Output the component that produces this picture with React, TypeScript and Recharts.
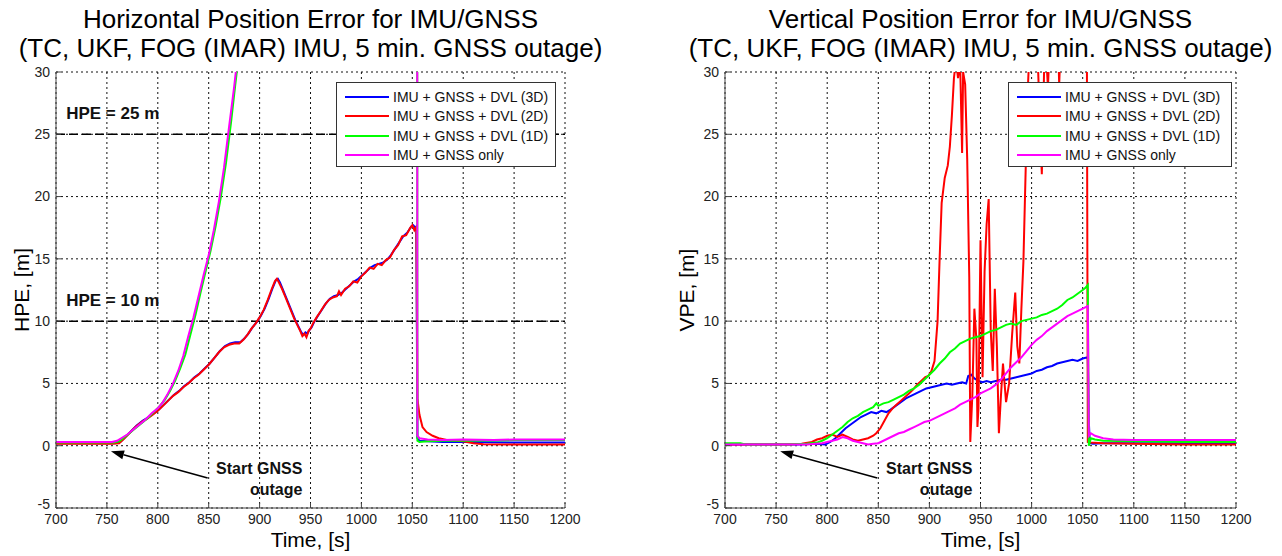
import React from "react";
import {
  LineChart,
  Line,
  XAxis,
  YAxis,
  CartesianGrid,
  ReferenceLine,
  ReferenceDot,
  Legend,
} from "recharts";

const FONT = "'Liberation Sans', Arial, Helvetica, sans-serif";

const TIME_TICKS = [700, 750, 800, 850, 900, 950, 1000, 1050, 1100, 1150, 1200];
const ERR_TICKS = [-5, 0, 5, 10, 15, 20, 25, 30];

const SERIES_NAMES = [
  "IMU + GNSS + DVL (3D)",
  "IMU + GNSS + DVL (2D)",
  "IMU + GNSS + DVL (1D)",
  "IMU + GNSS only",
];
const SERIES_COLORS = ["#0000ff", "#ff0000", "#00ff00", "#ff00ff"];

// HPE curves, [time s, error m]
const HPE_3D: [number, number][] = [
  [700, 0.2], [740, 0.2], [758, 0.2], [763, 0.3], [767, 0.6], [773, 1.1], [779, 1.6], [785, 2.0],
  [791, 2.3], [796, 2.6], [801, 2.9], [806, 3.3], [811, 3.7], [816, 4.1], [821, 4.4], [826, 4.8],
  [831, 5.1], [836, 5.5], [841, 5.8], [846, 6.2], [851, 6.6], [856, 7.1], [861, 7.6], [866, 8.0],
  [871, 8.2], [876, 8.3], [881, 8.3], [885, 8.6], [889, 9.0], [893, 9.5], [897, 9.9], [901, 10.4],
  [905, 11.0], [909, 11.8], [913, 12.7], [916, 13.3], [918, 13.4], [920, 13.1], [923, 12.5],
  [926, 11.9], [929, 11.3], [932, 10.7], [935, 10.1], [938, 9.6], [941, 9.1], [943, 8.9],
  [945, 9.1], [947, 9.0], [949, 9.3], [951, 9.5], [954, 10.0], [957, 10.4], [961, 10.9],
  [965, 11.4], [969, 11.8], [973, 12.0], [977, 12.1], [981, 12.3], [985, 12.6], [989, 12.9],
  [993, 13.2], [997, 13.4], [1001, 13.7], [1005, 14.0], [1009, 14.3], [1013, 14.5], [1017, 14.6],
  [1021, 14.7], [1025, 14.9], [1029, 15.3], [1033, 15.8], [1037, 16.3], [1041, 16.8], [1045, 17.1],
  [1049, 17.6], [1051, 17.7], [1053, 17.5], [1054, 17.6], [1055, 0.6], [1057, 0.4], [1065, 0.35],
  [1080, 0.3], [1100, 0.3], [1150, 0.25], [1200, 0.25],
];
const HPE_2D: [number, number][] = [
  [700, 0.15], [720, 0.15], [740, 0.15], [755, 0.15], [762, 0.2], [766, 0.5], [772, 1.0], [778, 1.5],
  [784, 1.9], [790, 2.2], [795, 2.5], [800, 2.8], [805, 3.2], [810, 3.6], [815, 4.0], [820, 4.3],
  [825, 4.7], [830, 5.0], [835, 5.4], [840, 5.7], [845, 6.1], [850, 6.5], [855, 7.0], [860, 7.5],
  [865, 7.9], [870, 8.1], [875, 8.2], [880, 8.2], [884, 8.5], [888, 8.9], [892, 9.4], [896, 9.8],
  [900, 10.3], [904, 10.9], [908, 11.7], [912, 12.6], [915, 13.2], [917, 13.4], [919, 13.1],
  [922, 12.6], [925, 12.0], [928, 11.4], [931, 10.8], [934, 10.2], [937, 9.7], [940, 9.2],
  [942, 8.8], [944, 9.0], [946, 8.7], [948, 9.2], [950, 9.4], [953, 9.9], [956, 10.3], [960, 10.8],
  [964, 11.3], [968, 11.7], [972, 11.9], [976, 12.0], [978, 12.4], [980, 12.1], [984, 12.6],
  [988, 12.8], [992, 13.2], [996, 13.1], [1000, 13.6], [1004, 13.9], [1008, 14.3], [1012, 14.2],
  [1016, 14.6], [1020, 14.5], [1024, 14.9], [1028, 15.1], [1032, 15.7], [1036, 16.1], [1040, 16.8],
  [1044, 16.9], [1048, 17.5], [1050, 17.7], [1052, 17.3], [1054, 17.6], [1055, 3.8], [1057, 2.5],
  [1060, 1.5], [1064, 1.1], [1070, 0.8], [1076, 0.6], [1085, 0.45], [1100, 0.35], [1110, 0.2],
  [1120, 0.12], [1150, 0.1], [1200, 0.1],
];
const HPE_1D: [number, number][] = [
  [700, 0.25], [730, 0.25], [757, 0.25], [762, 0.35], [766, 0.6], [772, 1.0], [778, 1.4], [784, 1.8],
  [790, 2.2], [796, 2.7], [802, 3.2], [807, 3.7], [812, 4.4], [817, 5.2], [822, 6.2], [827, 7.3],
  [832, 8.9], [837, 10.5], [842, 12.3], [847, 14.0], [852, 15.7], [857, 17.7], [862, 20.0],
  [867, 22.7], [872, 26.0], [876, 28.9], [879, 31], [886, 36], [900, 47], [950, 94], [1000, 148],
  [1054, 218], [1055, 0.4], [1057, 0.3], [1065, 0.35], [1080, 0.4], [1100, 0.4], [1150, 0.45],
  [1200, 0.45],
];
const HPE_ONLY: [number, number][] = [
  [700, 0.3], [730, 0.3], [755, 0.3], [760, 0.4], [764, 0.6], [770, 0.9], [776, 1.3], [782, 1.7],
  [788, 2.1], [794, 2.6], [800, 3.0], [805, 3.5], [810, 4.2], [815, 5.0], [820, 6.0], [825, 7.2],
  [830, 8.8], [835, 10.3], [840, 12.0], [845, 13.7], [850, 15.3], [855, 17.3], [860, 19.6],
  [865, 22.3], [870, 25.6], [875, 28.8], [878, 31], [885, 36], [900, 48], [950, 95], [1000, 150],
  [1054, 220], [1055, 0.8], [1057, 0.6], [1065, 0.5], [1080, 0.45], [1100, 0.5], [1130, 0.45],
  [1150, 0.5], [1200, 0.5],
];

// VPE curves, [time s, error m]
const VPE_3D: [number, number][] = [
  [700, 0.1], [740, 0.1], [770, 0.1], [790, 0.15], [798, 0.1], [803, 0.3], [808, 0.6], [813, 1.0],
  [818, 1.4], [823, 1.7], [828, 2.0], [833, 2.3], [838, 2.5], [843, 2.7], [848, 2.6], [853, 2.8],
  [858, 2.7], [862, 2.9], [867, 3.2], [872, 3.5], [877, 3.8], [882, 4.0], [887, 4.2], [892, 4.4],
  [897, 4.6], [902, 4.7], [907, 4.8], [912, 4.9], [917, 5.0], [922, 4.9], [927, 5.0], [932, 5.1],
  [936, 5.0], [938, 5.6], [941, 5.7], [944, 5.4], [948, 5.2], [952, 5.1], [956, 5.2], [960, 5.1],
  [965, 5.2], [970, 5.3], [975, 5.3], [980, 5.4], [985, 5.5], [990, 5.6], [995, 5.7], [1000, 5.8],
  [1005, 6.0], [1010, 6.1], [1015, 6.3], [1020, 6.4], [1025, 6.6], [1030, 6.7], [1035, 6.8],
  [1040, 6.9], [1045, 6.8], [1050, 7.0], [1055, 7.1], [1056, 1.9], [1057, 0.2], [1060, 0.15],
  [1070, 0.2], [1100, 0.2], [1150, 0.2], [1200, 0.2],
];
const VPE_2D: [number, number][] = [
  [700, 0.1], [760, 0.1], [775, 0.15], [785, 0.3], [790, 0.5], [795, 0.6], [800, 0.8], [805, 0.9],
  [810, 0.7], [815, 0.9], [820, 0.7], [825, 0.5], [830, 0.4], [835, 0.5], [840, 0.6], [845, 0.8],
  [848, 1.0], [852, 1.4], [856, 2.0], [860, 2.6], [864, 3.0], [868, 3.3], [872, 3.6], [876, 3.9],
  [880, 4.2], [884, 4.5], [888, 4.9], [892, 5.2], [896, 5.5], [899, 5.6], [902, 6.0], [905, 6.8],
  [908, 10], [910, 15], [912, 19.5], [915, 21.5], [918, 22.5], [920, 24], [922, 26.5], [924, 29.5],
  [926, 31], [928, 29.5], [930, 31], [932, 23.5], [933, 30], [935, 29], [937, 23], [939, 13.5],
  [940, 0.3], [942, 4], [944, 11], [946, 8.5], [947, 1.5], [948, 3], [950, 16.5], [952, 5.5],
  [954, 14], [956, 17.8], [958, 19.8], [960, 9.3], [962, 6], [964, 12.6], [966, 8], [968, 1.0],
  [970, 4], [972, 6.6], [975, 3.5], [978, 5], [981, 9], [984, 12.3], [986, 8], [988, 6.6],
  [990, 11], [992, 14.8], [994, 21.5], [996, 28], [998, 32], [1002, 36], [1006, 31], [1010, 21.8],
  [1013, 33], [1016, 28.8], [1019, 35], [1024, 38], [1027, 29], [1030, 36], [1040, 42], [1050, 40],
  [1054, 35], [1055, 0.3], [1058, 0.25], [1070, 0.2], [1100, 0.15], [1150, 0.1], [1200, 0.1],
];
const VPE_1D: [number, number][] = [
  [700, 0.2], [715, 0.2], [720, 0.1], [760, 0.1], [780, 0.15], [790, 0.25], [795, 0.4], [800, 0.6],
  [805, 0.9], [810, 1.2], [815, 1.5], [820, 1.9], [825, 2.2], [830, 2.4], [835, 2.7], [840, 2.9],
  [845, 3.1], [848, 3.4], [850, 3.2], [855, 3.4], [860, 3.5], [865, 3.7], [870, 3.9], [875, 4.1],
  [880, 4.4], [885, 4.6], [890, 4.9], [895, 5.3], [900, 5.7], [905, 6.1], [910, 6.6], [915, 7.0],
  [920, 7.5], [925, 7.8], [930, 8.2], [935, 8.4], [940, 8.6], [945, 8.7], [950, 8.8], [955, 9.0],
  [960, 9.2], [965, 9.3], [970, 9.5], [975, 9.7], [980, 9.8], [985, 9.7], [990, 10.0], [995, 10.1],
  [1000, 10.2], [1005, 10.3], [1010, 10.5], [1015, 10.6], [1020, 10.8], [1025, 11.0], [1030, 11.3],
  [1035, 11.7], [1040, 11.9], [1045, 12.2], [1050, 12.5], [1053, 12.7], [1055, 12.9], [1056, 0.0],
  [1058, 0.6], [1062, 0.5], [1070, 0.4], [1100, 0.35], [1150, 0.3], [1200, 0.3],
];
const VPE_ONLY: [number, number][] = [
  [700, 0.1], [750, 0.1], [780, 0.1], [795, 0.2], [800, 0.3], [805, 0.4], [810, 0.5], [815, 0.7],
  [820, 0.6], [825, 0.4], [830, 0.3], [835, 0.2], [840, 0.1], [845, 0.15], [850, 0.2], [855, 0.4],
  [860, 0.6], [865, 0.8], [870, 1.0], [875, 1.1], [880, 1.3], [885, 1.5], [890, 1.7], [895, 1.9],
  [900, 2.0], [905, 2.2], [910, 2.4], [915, 2.6], [920, 2.8], [925, 3.0], [930, 3.3], [935, 3.5],
  [940, 3.7], [945, 3.9], [950, 4.2], [955, 4.4], [960, 4.6], [965, 4.9], [970, 5.3], [975, 5.8],
  [980, 6.3], [985, 6.7], [990, 7.1], [995, 7.6], [1000, 8.1], [1005, 8.5], [1010, 8.8],
  [1015, 9.2], [1020, 9.5], [1025, 9.8], [1030, 10.1], [1035, 10.4], [1040, 10.6], [1045, 10.8],
  [1050, 11.0], [1055, 11.2], [1056, 0.8], [1058, 1.0], [1062, 0.8], [1070, 0.6], [1080, 0.5],
  [1100, 0.45], [1150, 0.45], [1200, 0.45],
];

const HPE_LIMITS = [25, 10];

const toPts = (a: [number, number][]) => a.map(([t, v]) => ({ t, v }));

function Arrow(props: any) {
  const { x1, y1, x2, y2 } = props;
  const ang = Math.atan2(y2 - y1, x2 - x1);
  const len = 13;
  const half = 4.5;
  const bx = x2 - len * Math.cos(ang);
  const by = y2 - len * Math.sin(ang);
  const px = -Math.sin(ang) * half;
  const py = Math.cos(ang) * half;
  return (
    <g>
      <line x1={x1} y1={y1} x2={bx} y2={by} stroke="#000" strokeWidth={1.6} />
      <polygon points={`${x2},${y2} ${bx + px},${by + py} ${bx - px},${by - py}`} fill="#000" />
    </g>
  );
}

// y tick text; the bottom one sits a bit higher so it clears the "700" below it
function ErrTick(props: any) {
  const { x, y, payload } = props;
  const lift = payload.value === -5 ? -4 : 0;
  return (
    <text
      x={x}
      y={y + lift}
      dy="0.35em"
      textAnchor="end"
      fill="#222"
      fontSize={14}
      fontFamily={FONT}
    >
      {payload.value}
    </text>
  );
}

function LegendBox({ width }: { width: number }) {
  return (
    <div
      style={{
        width,
        height: 85,
        boxSizing: "border-box",
        border: "1px solid #333",
        background: "#fff",
        padding: "4px 0 0 8px",
        fontFamily: FONT,
        fontSize: 14,
        color: "#111",
      }}
    >
      {SERIES_NAMES.map((n, i) => (
        <div key={n} style={{ display: "flex", alignItems: "center", height: 19.5, whiteSpace: "nowrap" }}>
          <span style={{ width: 44, height: 0, borderTop: `2px solid ${SERIES_COLORS[i]}`, marginRight: 4 }} />
          <span>{n}</span>
        </div>
      ))}
    </div>
  );
}

const annot = { fill: "#111", fontSize: 16, fontWeight: "bold", fontFamily: FONT };

interface PanelProps {
  left: number;
  width: number;
  margin: { top: number; right: number; bottom: number; left: number };
  title: string[];
  yLabel: string;
  yLabelX: number;
  series: [number, number][][];
  limits?: number[];
  legendLeft: number;
  legendWidth: number;
}

function Panel({ left, width, margin, title, yLabel, yLabelX, series, limits, legendLeft, legendWidth }: PanelProps) {
  const plotLeft = margin.left + 40;
  const plotRight = width - margin.right;
  const cx = (plotLeft + plotRight) / 2;
  return (
    <div style={{ position: "absolute", left, top: 0, width, height: 556 }}>
      <div
        style={{
          position: "absolute",
          left: cx - 400,
          width: 800,
          top: 5,
          textAlign: "center",
          fontFamily: FONT,
          fontSize: 26,
          lineHeight: "29px",
          whiteSpace: "nowrap",
          color: "#000",
        }}
      >
        {title.map((t) => (
          <div key={t}>{t}</div>
        ))}
      </div>
      <LineChart width={width} height={556} margin={margin}>
        <CartesianGrid stroke="#111" strokeDasharray="2 3" />
        <XAxis
          dataKey="t"
          type="number"
          domain={[700, 1200]}
          ticks={TIME_TICKS}
          interval={0}
          allowDataOverflow
          height={30}
          stroke="#444"
          tickSize={-5}
          tickMargin={11}
          tick={{ fill: "#222", fontSize: 14, fontFamily: FONT }}
        />
        <XAxis
          xAxisId="top"
          orientation="top"
          dataKey="t"
          type="number"
          domain={[700, 1200]}
          ticks={TIME_TICKS}
          interval={0}
          height={0}
          stroke="#444"
          tickSize={-5}
          tick={false}
        />
        <YAxis
          type="number"
          domain={[-5, 30]}
          ticks={ERR_TICKS}
          interval={0}
          allowDataOverflow
          width={40}
          stroke="#444"
          tickSize={-5}
          tickMargin={11}
          tick={<ErrTick />}
        />
        <YAxis
          yAxisId="right"
          orientation="right"
          type="number"
          domain={[-5, 30]}
          ticks={ERR_TICKS}
          interval={0}
          width={0}
          stroke="#444"
          tickSize={-5}
          tick={false}
        />
        {(limits || []).map((y) => (
          <ReferenceLine key={y} y={y} stroke="#000" strokeWidth={1.5} strokeDasharray="9 4" />
        ))}
        {(limits || []).map((y) => (
          <ReferenceDot
            key={`l${y}`}
            x={710}
            y={y + 1.7}
            r={0}
            stroke="none"
            label={{ value: `HPE = ${y} m`, position: "right", offset: 0, ...annot, fontSize: 17 }}
          />
        ))}
        {series.map((s, i) => (
          <Line
            key={i}
            data={toPts(s)}
            dataKey="v"
            type="linear"
            stroke={SERIES_COLORS[i]}
            strokeWidth={2}
            dot={false}
            isAnimationActive={false}
          />
        ))}
        <ReferenceLine
          segment={[
            { x: 849, y: -2.6 },
            { x: 754, y: -0.45 },
          ]}
          shape={Arrow}
        />
        <ReferenceDot x={942} y={-1.85} r={0} stroke="none" label={{ value: "Start GNSS", position: "left", offset: 0, ...annot }} />
        <ReferenceDot x={942} y={-3.5} r={0} stroke="none" label={{ value: "outage", position: "left", offset: 0, ...annot }} />
        <Legend
          layout="vertical"
          align="center"
          verticalAlign="middle"
          wrapperStyle={{ left: legendLeft, top: 82, width: legendWidth, height: 85 }}
          content={() => <LegendBox width={legendWidth} />}
        />
      </LineChart>
      <div
        style={{
          position: "absolute",
          left: yLabelX,
          top: 290,
          transform: "translate(-50%, -50%) rotate(-90deg)",
          fontFamily: FONT,
          fontSize: 21,
          whiteSpace: "nowrap",
          color: "#000",
        }}
      >
        {yLabel}
      </div>
      <div
        style={{
          position: "absolute",
          left: cx - 100,
          width: 200,
          top: 527,
          lineHeight: "26px",
          textAlign: "center",
          fontFamily: FONT,
          fontSize: 21,
          color: "#000",
        }}
      >
        Time, [s]
      </div>
    </div>
  );
}

export default function App() {
  return (
    <div style={{ position: "absolute", left: 0, top: 0, width: 1282, height: 556, background: "#fff", overflow: "hidden" }}>
      <Panel
        left={0}
        width={640}
        margin={{ top: 72, right: 75, bottom: 18, left: 16 }}
        title={["Horizontal Position Error for IMU/GNSS", "(TC, UKF, FOG (IMAR) IMU, 5 min. GNSS outage)"]}
        yLabel="HPE, [m]"
        yLabelX={22}
        series={[HPE_3D, HPE_2D, HPE_1D, HPE_ONLY]}
        limits={HPE_LIMITS}
        legendLeft={336}
        legendWidth={220}
      />
      <Panel
        left={640}
        width={642}
        margin={{ top: 72, right: 46, bottom: 18, left: 45 }}
        title={["Vertical Position Error for IMU/GNSS", "(TC, UKF, FOG (IMAR) IMU, 5 min. GNSS outage)"]}
        yLabel="VPE, [m]"
        yLabelX={47}
        series={[VPE_3D, VPE_2D, VPE_1D, VPE_ONLY]}
        legendLeft={368}
        legendWidth={224}
      />
    </div>
  );
}
